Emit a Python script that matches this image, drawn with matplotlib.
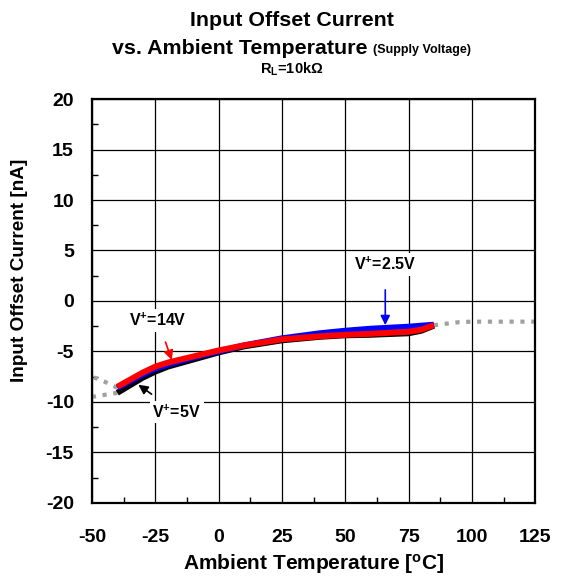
import matplotlib
matplotlib.use("Agg")
import matplotlib.pyplot as plt
from matplotlib.ticker import MultipleLocator
from matplotlib.offsetbox import TextArea, HPacker, AnchoredOffsetbox

plt.rcParams['font.family'] = ['Liberation Sans', 'DejaVu Sans']
plt.rcParams['font.weight'] = 'bold'
plt.rcParams['mathtext.fontset'] = 'custom'
plt.rcParams['mathtext.rm'] = 'Liberation Sans:bold'
plt.rcParams['mathtext.it'] = 'Liberation Sans:bold'
plt.rcParams['mathtext.bf'] = 'Liberation Sans:bold'
plt.rcParams['mathtext.default'] = 'rm'

temps = [-40, -30, -25, -20, -10, 0, 10, 25, 40, 50, 60, 75, 80, 85]
v14 = [-8.5, -7.1, -6.5, -6.1, -5.5, -4.9, -4.4, -3.8, -3.5, -3.35, -3.25, -3.05, -2.85, -2.4]
v5 = [-9.1, -7.6, -7.0, -6.5, -5.8, -5.1, -4.5, -3.9, -3.55, -3.4, -3.35, -3.2, -2.95, -2.45]
v25 = [-8.6, -7.3, -6.7, -6.3, -5.6, -5.0, -4.4, -3.7, -3.2, -2.95, -2.75, -2.55, -2.45, -2.35]

ext_r_t = [85, 90, 95, 100, 110, 125]
ext_r_v = [-2.4, -2.25, -2.1, -2.05, -2.05, -2.05]
ext_lu_t = [-40, -45, -50]
ext_lu_v = [-8.6, -8.0, -7.5]
ext_ll_t = [-40, -45, -50]
ext_ll_v = [-9.1, -9.3, -9.5]

xticks = [-50, -25, 0, 25, 50, 75, 100, 125]
yticks = [-20, -15, -10, -5, 0, 5, 10, 15, 20]

fig = plt.figure(figsize=(5.61, 5.76), dpi=100)
ax = fig.add_axes([0.164, 0.127, 0.790, 0.701])

gray = '#a0a0a0'
ax.plot(ext_r_t, ext_r_v, color=gray, lw=3, ls=(0, (1, 1.6)), zorder=2)
ax.plot(ext_lu_t, ext_lu_v, color=gray, lw=3, ls=(0, (1, 1.6)), zorder=2)
ax.plot(ext_ll_t, ext_ll_v, color=gray, lw=3, ls=(0, (1, 1.6)), zorder=2)

ax.plot(temps, v5, color='black', lw=4.3, zorder=3, solid_capstyle='butt')
ax.plot(temps, v25, color='#0000ff', lw=4.3, zorder=4, solid_capstyle='butt')
ax.plot(temps, v14, color='#ff0000', lw=4.3, zorder=5, solid_capstyle='butt')

ax.set_xlim(-50, 125)
ax.set_ylim(-20, 20)
ax.set_xticks(xticks)
ax.set_yticks(yticks)
ax.set_xticklabels([str(t) for t in xticks], fontsize=14, fontweight='bold')
ax.set_yticklabels([str(t) for t in yticks], fontsize=14, fontweight='bold')
ax.xaxis.set_minor_locator(MultipleLocator(12.5))
ax.yaxis.set_minor_locator(MultipleLocator(2.5))
ax.tick_params(which='both', direction='in')
ax.tick_params(axis='x', which='major', length=0, pad=19)
ax.tick_params(axis='y', which='major', length=0, pad=13)
ax.tick_params(which='minor', length=4, width=1, color='black')
ax.grid(True, which='major', color='black', lw=0.9)
for s in ax.spines.values():
    s.set_linewidth(1.6)
    s.set_zorder(6)

ax.set_xlabel(r'Ambient Temperature [$^{\mathregular{o}}$C]', fontsize=15, fontweight='bold', labelpad=4)
fig.text(20 / 561, 1 - 270 / 576, 'Input Offset Current [nA]', rotation=90, ha='center', va='center',
         fontsize=13.7, fontweight='bold')

box = dict(facecolor='white', edgecolor='none', pad=2)
ax.annotate(r'V$^{+}$=2.5V', xy=(65.8, -2.4), xytext=(65.8, 3.6), ha='center', va='center',
            fontsize=11.5, fontweight='bold', bbox=box, zorder=7,
            arrowprops=dict(arrowstyle='-|>', color='#0000ff', lw=1.2, mutation_scale=14,
                            shrinkA=10, shrinkB=0))
ax.annotate(r'V$^{+}$=14V', xy=(-18.5, -5.85), xytext=(-24, -1.9), ha='center', va='center',
            fontsize=11.5, fontweight='bold', bbox=box, zorder=7,
            arrowprops=dict(arrowstyle='-|>', color='#ff0000', lw=1.2, mutation_scale=14,
                            shrinkA=8, shrinkB=0))
ax.annotate(r'V$^{+}$=5V', xy=(-31.7, -8.3), xytext=(-16.6, -11.0), ha='center', va='center',
            fontsize=11.5, fontweight='bold', bbox=box, zorder=7,
            arrowprops=dict(arrowstyle='-|>', color='black', lw=1.2, mutation_scale=14,
                            shrinkA=8, shrinkB=0))

fig.text(0.52, 1 - 20 / 576, 'Input Offset Current', ha='center', va='center', fontsize=15.4, fontweight='bold')
t1 = TextArea('vs. Ambient Temperature ', textprops=dict(fontsize=15.4, fontweight='bold'))
t2 = TextArea('(Supply Voltage)', textprops=dict(fontsize=9, fontweight='bold'))
hp = HPacker(children=[t1, t2], align='baseline', pad=0, sep=0)
ab = AnchoredOffsetbox(loc='center', child=hp, frameon=False, pad=0, borderpad=0,
                       bbox_to_anchor=(0.52, 1 - 48 / 576), bbox_transform=fig.transFigure)
fig.add_artist(ab)
fig.text(0.52, 1 - 69 / 576, r'R$_{\mathregular{L}}$=10k$\Omega$', ha='center', va='center', fontsize=10.5, fontweight='bold')

fig.savefig('out.png', dpi=100)
